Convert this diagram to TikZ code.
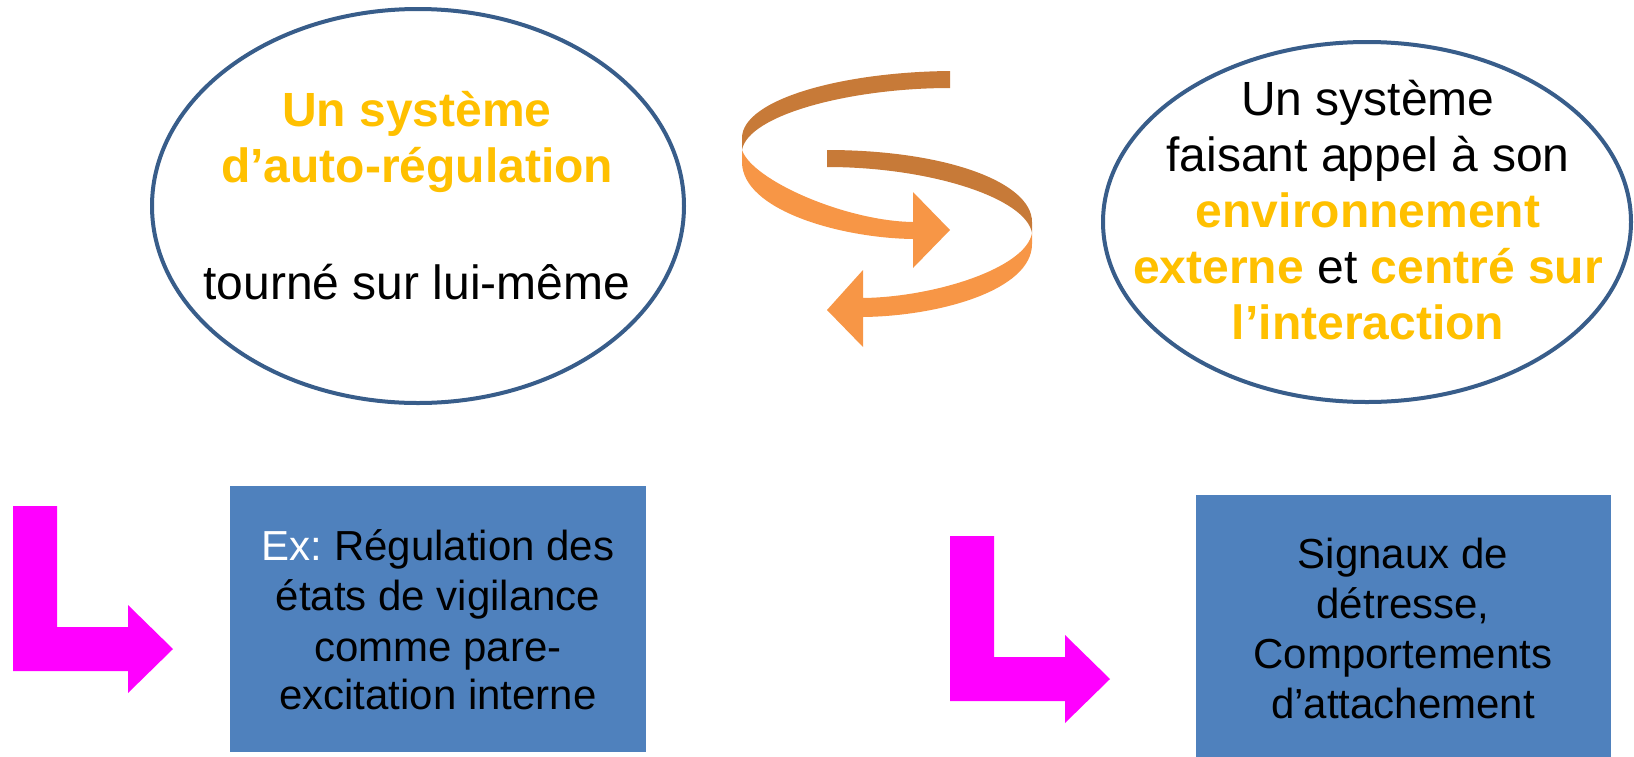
\documentclass[tikz,border=0pt]{standalone}
\usepackage{fontspec}
\setmainfont{Liberation Sans}
\usetikzlibrary{shapes.geometric}
\frenchspacing

\definecolor{ringblue}{HTML}{385D8A}
\definecolor{boxblue}{HTML}{4F81BD}
\definecolor{gold}{HTML}{FFC000}
\definecolor{pinkarrow}{HTML}{FF00FF}
\definecolor{ribbonfront}{HTML}{F79646}
\definecolor{ribbonback}{HTML}{C77A38}

\begin{document}
\begin{tikzpicture}[x=1pt,y=-1pt,
  ring/.style={draw=ringblue, line width=4pt, ellipse, inner sep=0pt, fill=white},
  bigline/.style={font=\fontsize{48}{56}\selectfont, inner sep=0pt, anchor=base},
  boxline/.style={font=\fontsize{42}{50}\selectfont, inner sep=0pt, anchor=base},
  bluebox/.style={fill=boxblue, draw=none, rectangle, inner sep=0pt},
  hl/.style={text=gold, font=\fontsize{48}{56}\selectfont\bfseries}
]
\useasboundingbox (0,0) rectangle (1634,756);

% the two systems
\node[ring, minimum width=532pt, minimum height=394pt] (self) at (418,206) {};
\node[ring, minimum width=528pt, minimum height=360pt] (env) at (1367,222) {};

\node[bigline, hl] (selfA) at (417,126) {Un système};
\node[bigline, hl] (selfB) at (417,182) {d’auto-régulation};
\node[bigline] (selfC) at (417,299) {tourné sur lui-même};

\node[bigline] (envA) at (1368,115) {Un système};
\node[bigline] (envB) at (1368,171) {faisant appel à son};
\node[bigline, hl] (envC) at (1368,227) {environnement};
\node[bigline] (envD) at (1368,283) {{\bfseries\color{gold}externe} et {\bfseries\color{gold}centré sur}};
\node[bigline, hl] (envE) at (1368,339) {l’interaction};

% swirling double arrow: upper ribbon (back face, then front face with head)
\fill[ribbonback] (950,71) .. controls (840,72) and (742,100) .. (742,138)
  -- (742,150) .. controls (748,115) and (850,88) .. (950,88) -- cycle;
\fill[ribbonfront] (742,150) -- (742,162) .. controls (742,210) and (840,238) .. (913,239)
  -- (913,268) -- (950,230) -- (913,192) -- (913,222)
  .. controls (845,221) and (752,180) .. (742,150) -- cycle;
% lower ribbon
\fill[ribbonback] (827,150) .. controls (945,150) and (1032,182) .. (1032,222)
  -- (1032,233) .. controls (1026,198) and (930,167) .. (827,167) -- cycle;
\fill[ribbonfront] (1032,233) -- (1032,244) .. controls (1032,290) and (940,316) .. (863,317)
  -- (863,347) -- (827,310) -- (863,270) -- (863,298)
  .. controls (935,297) and (1026,268) .. (1032,233) -- cycle;

% bent arrows
\fill[pinkarrow] (13,506) -- (57,506) -- (57,627) -- (128,627) -- (128,605)
  -- (173,649) -- (128,693) -- (128,671) -- (13,671) -- cycle;
\fill[pinkarrow] (950,536) -- (994,536) -- (994,657) -- (1065,657) -- (1065,635)
  -- (1110,679) -- (1065,723) -- (1065,701) -- (950,701) -- cycle;

% example boxes
\node[bluebox, minimum width=416pt, minimum height=266pt] (ex1) at (438,619) {};
\node[boxline] (ex1a) at (438,560) {{\color{white}Ex:} Régulation des};
\node[boxline] (ex1b) at (438,610) {états de vigilance};
\node[boxline] (ex1c) at (438,661) {comme pare-};
\node[boxline] (ex1d) at (438,709) {excitation interne};

\node[bluebox, minimum width=415pt, minimum height=275pt] (ex2) at (1403.5,632.5) {};
\node[boxline] (ex2a) at (1403,568) {Signaux de};
\node[boxline] (ex2b) at (1403,618) {détresse,};
\node[boxline] (ex2c) at (1403,668) {Comportements};
\node[boxline] (ex2d) at (1403,718) {d’attachement};
\end{tikzpicture}
\end{document}
